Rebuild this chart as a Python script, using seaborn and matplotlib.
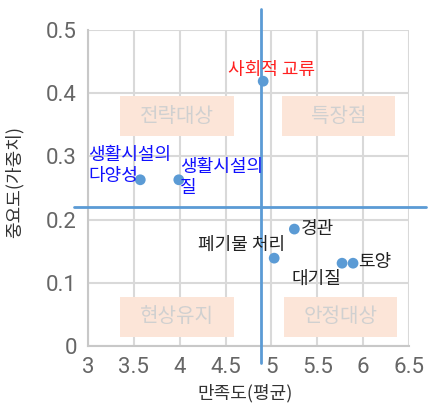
import matplotlib
matplotlib.use("Agg")
import matplotlib.pyplot as plt
import seaborn as sns
import pandas as pd

names = ["사회적 교류", "생활시설의\n다양성", "생활시설의\n질", "경관", "폐기물 처리", "대기질", "토양"]
satisfaction = [4.91, 3.57, 3.99, 5.25, 5.03, 5.77, 5.89]
importance = [0.419, 0.263, 0.263, 0.185, 0.139, 0.131, 0.131]
label_colors = ["#FF2020", "#1010FF", "#1010FF", "#222222", "#222222", "#222222", "#222222"]
quadrants = ["전략대상", "특장점", "현상유지", "안정대상"]
mean_x = 4.89
mean_y = 0.22
x_ticks = [3, 3.5, 4, 4.5, 5, 5.5, 6, 6.5]
y_ticks = [0, 0.1, 0.2, 0.3, 0.4, 0.5]
x_tick_labels = ["3", "3.5", "4", "4.5", "5", "5.5", "6", "6.5"]
y_tick_labels = ["0", "0.1", "0.2", "0.3", "0.4", "0.5"]

df = pd.DataFrame({"name": names, "x": satisfaction, "y": importance})

sns.set_theme(style="white")
plt.rcParams['font.family'] = ['Noto Sans CJK KR', 'DejaVu Sans']

fig = plt.figure(figsize=(4.33, 4.05), dpi=100)
ax = fig.add_axes([88/433, 1 - 346/405, (409-88)/433, (346-30)/405])

ax.set_xlim(3, 6.5)
ax.set_ylim(0, 0.5)
ax.set_xticks(x_ticks)
ax.set_yticks(y_ticks)
ax.set_xticklabels(x_tick_labels, family=['Roboto'], fontsize=16, color="#666666")
ax.set_yticklabels(y_tick_labels, family=['Roboto'], fontsize=16, color="#666666")
ax.tick_params(length=0, pad=8)
ax.grid(True, color="#D9D9D9", linewidth=1.5, zorder=0)
ax.set_axisbelow(True)
for s in ["top", "right"]:
    ax.spines[s].set_visible(False)
for s in ["left", "bottom"]:
    ax.spines[s].set_color("#C8C8C8")
    ax.spines[s].set_linewidth(1.5)

# quadrant boxes
box_pos = [(3.35, 0.332, 1.24, 0.063), (5.12, 0.332, 1.23, 0.063),
           (3.35, 0.014, 1.24, 0.064), (5.14, 0.014, 1.23, 0.064)]
for (bx, by, bw, bh), q in zip(box_pos, quadrants):
    ax.add_patch(plt.Rectangle((bx, by), bw, bh, facecolor="#FCE5D8", edgecolor="none", zorder=1))
    ax.text(bx + bw/2, by + bh/2, q, ha="center", va="center", fontsize=14.5, color="#D0D0D0", zorder=2)

sns.scatterplot(data=df, x="x", y="y", ax=ax, color="#5B9BD5", s=60, edgecolor="none", zorder=4, legend=False)

# mean lines extending beyond axes
ax.plot([mean_x, mean_x], [-0.027, 0.534], color="#5B9BD5", linewidth=2, clip_on=False, zorder=5)
ax.plot([2.85, 6.68], [mean_y, mean_y], color="#5B9BD5", linewidth=2, clip_on=False, zorder=5)

k = 0.72
offsets = [(8*k, 11*k, "center", "center"), (-52*k, 14*k, "left", "center"),
           (1*k, 2*k, "left", "center"), (6*k, 0, "left", "center"),
           (11*k, 13*k, "right", "center"), (-1*k, -16*k, "right", "center"),
           (5*k, 1*k, "left", "center")]
for n, xv, yv, c, (dx, dy, ha, va) in zip(names, satisfaction, importance, label_colors, offsets):
    ax.annotate(n, (xv, yv), xytext=(dx, dy), textcoords="offset points", ha=ha, va=va,
                fontsize=13, color=c, linespacing=1.2, zorder=6)

ax.set_xlabel("만족도(평균)", fontsize=13, color="#333333")
ax.set_ylabel("중요도(가중치)", fontsize=13, color="#333333")
ax.xaxis.set_label_coords(0.49, -0.12)
ax.yaxis.set_label_coords(-0.2, 0.52)

fig.savefig("out.png", dpi=100)
